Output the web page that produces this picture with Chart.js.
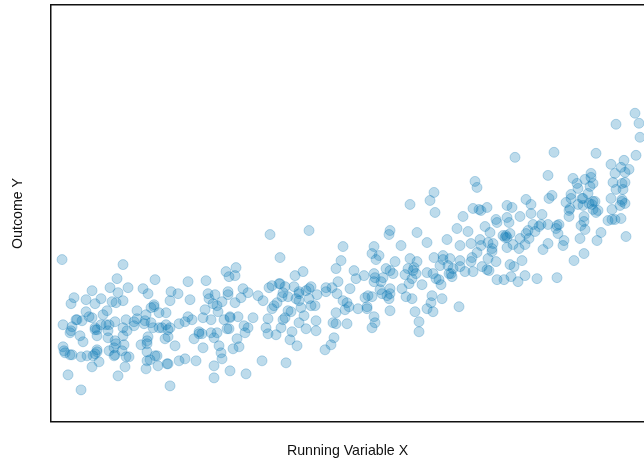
<!DOCTYPE html>
<html>
<head>
<meta charset="utf-8">
<script src="https://cdn.jsdelivr.net/npm/chart.js@4"></script>
<style>
  html, body { margin: 0; padding: 0; background: #fff; }
  canvas { display: block; }
</style>
</head>
<body>
<canvas id="chart" width="644" height="460"></canvas>
<script>
const xLabel = "Running Variable X";
const yLabel = "Outcome Y";

// values, axis units are arbitrary (no ticks on the original)
const runningX = [
  11,72,66,104,137,155,175,185,178,184,41,59,77,67,92,97,120,127,23,20,
  35,44,50,61,65,72,119,139,157,158,164,177,177,192,197,190,184,171,166,162,
  167,154,56,52,35,38,41,25,26,31,12,21,19,20,29,32,44,44,46,50,
  46,55,58,57,57,64,72,75,76,72,83,83,86,86,95,100,103,103,108,115,
  93,94,100,102,108,111,115,119,117,128,134,137,141,152,160,173,179,179,187,193,
  197,194,178,176,148,151,148,160,166,163,143,186,152,168,170,171,182,188,117,114,
  97,96,96,90,96,124,64,65,73,71,58,63,64,63,75,78,12,13,14,19,
  21,30,36,42,44,46,46,48,41,74,67,17,30,95,96,99,104,106,107,116,
  117,128,134,145,163,163,179,195,119,
  219,258,229,292,290,285,323,321,328,325,339,338,366,350,376,396,344,359,366,383,
  392,392,389,252,244,303,305,313,323,324,323,332,330,335,339,342,354,357,363,362,
  365,361,358,371,376,382,385,388,390,398,351,329,331,339,339,336,338,355,361,381,
  380,391,376,382,364,368,368,339,323,324,321,314,317,321,316,316,307,299,287,286,
  275,275,281,292,296,298,294,285,282,285,296,283,280,274,265,265,255,248,253,250,
  260,264,258,266,260,258,255,248,248,243,245,248,237,232,231,234,228,229,221,218,
  207,212,221,223,226,237,240,234,232,217,202,230,215,217,225,241,239,246,211,235,
  383,379,359,384,
  584,565,588,589,503,464,545,585,560,573,570,578,564,574,497,522,526,540,540,534,
  542,539,527,562,571,574,565,572,424,426,537,520,520,501,498,475,515,560,571,571,
  574,569,531,532,527,532,542,544,541,538,480,456,461,436,422,428,430,519,518,518,
  542,547,545,561,533,533,530,534,557,561,564,570,550,575,529,546,533,523,513,512,
  508,506,505,507,497,492,497,491,480,469,490,488,484,482,477,475,478,474,469,468,
  462,456,459,456,458,445,446,434,439,412,406,417,409,420,429,430,426,437,442,441,
  441,452,454,456,455,437,445,421,420,431,436,438,459,463,471,460,474,446,453,467,
  486,506,399,409,397,409,402,401,400,414,422,408
];

const outcomeY = [
  162,157,143,142,140,141,150,154,145,146,131,134,134,129,133,128,130,128,124,118,
  122,118,123,120,119,121,121,122,128,123,127,130,127,133,129,124,119,120,116,118,
  110,112,111,107,110,105,104,102,102,101,97,95,89,91,86,80,94,92,92,97,
  86,97,97,91,84,100,94,102,91,86,100,96,111,103,107,114,117,115,109,109,
  98,101,99,94,94,94,97,94,92,98,100,105,102,104,102,102,105,104,105,96,
  94,89,93,93,90,88,88,89,89,84,83,83,74,76,69,63,73,75,85,83,
  85,81,78,77,70,76,81,78,77,71,71,74,67,66,65,65,75,71,69,67,
  67,65,66,66,68,72,70,60,55,55,46,47,32,53,61,62,66,66,56,58,
  58,61,63,61,56,44,51,48,36,
  187,191,164,175,161,153,175,168,166,162,191,187,189,176,179,182,160,163,160,164,
  166,162,156,150,146,151,143,146,148,144,140,144,140,153,151,148,147,153,154,151,
  148,143,138,137,149,148,143,142,137,148,133,132,128,133,128,126,123,125,123,126,
  119,123,113,110,110,100,90,111,105,99,94,124,126,125,113,115,113,133,140,128,
  134,130,134,121,119,115,112,109,99,98,98,84,77,72,101,91,93,99,106,114,
  116,116,123,127,135,133,131,130,128,135,123,121,125,129,125,135,138,138,136,134,
  126,121,113,116,119,111,110,104,102,103,104,94,94,88,87,90,82,76,61,59,
  229,221,217,209,
  308,297,298,284,269,264,268,266,257,261,254,252,248,249,246,243,238,248,244,242,
  238,235,233,239,238,239,232,232,240,234,228,227,223,226,223,222,219,223,222,220,
  218,216,223,223,217,216,220,220,217,218,217,216,214,214,213,212,211,213,211,205,
  212,211,209,212,205,200,196,192,201,202,202,203,189,185,183,181,168,161,181,176,
  197,196,193,188,178,172,197,207,208,205,197,195,190,197,191,188,183,177,183,173,
  177,174,188,204,199,202,199,195,189,205,193,190,176,178,182,176,169,179,178,173,
  170,186,184,184,186,163,160,164,160,155,152,151,157,155,161,145,146,142,142,140,
  143,144,163,161,156,155,153,145,148,150,150,115
];

const points = runningX.map((x, i) => ({ x: x, y: outcomeY[i] }));

new Chart(document.getElementById("chart"), {
  type: "scatter",
  data: {
    datasets: [{
      data: points,
      pointRadius: 5,
      pointBorderWidth: 1,
      pointBackgroundColor: "rgba(0,114,178,0.26)",
      pointBorderColor: "rgba(0,114,178,0.26)"
    }]
  },
  options: {
    responsive: false,
    animation: false,
    layout: { autoPadding: false, padding: { top: 5, left: 10, right: 0, bottom: 0 } },
    plugins: { legend: { display: false }, tooltip: { enabled: false } },
    scales: {
      x: {
        min: 0,
        max: 593,
        grid: { display: false, drawTicks: false },
        border: { display: true, color: "#111", width: 1.5 },
        ticks: { display: false },
        title: {
          display: true,
          text: xLabel,
          color: "#111",
          font: { family: "Liberation Sans", size: 14.2 },
          padding: { top: 21, bottom: 0 }
        }
      },
      top: {
        position: "top",
        min: 0,
        max: 593,
        grid: { display: false, drawTicks: false },
        border: { display: true, color: "#111", width: 1.5 },
        ticks: { display: false }
      },
      y: {
        min: 0,
        max: 416,
        grid: { display: false, drawTicks: false },
        border: { display: true, color: "#111", width: 1.5 },
        ticks: { display: false },
        title: {
          display: true,
          text: yLabel,
          color: "#111",
          font: { family: "Liberation Sans", size: 14.2 },
          padding: { top: 0, bottom: 24 }
        }
      }
    }
  }
});
</script>
</body>
</html>
